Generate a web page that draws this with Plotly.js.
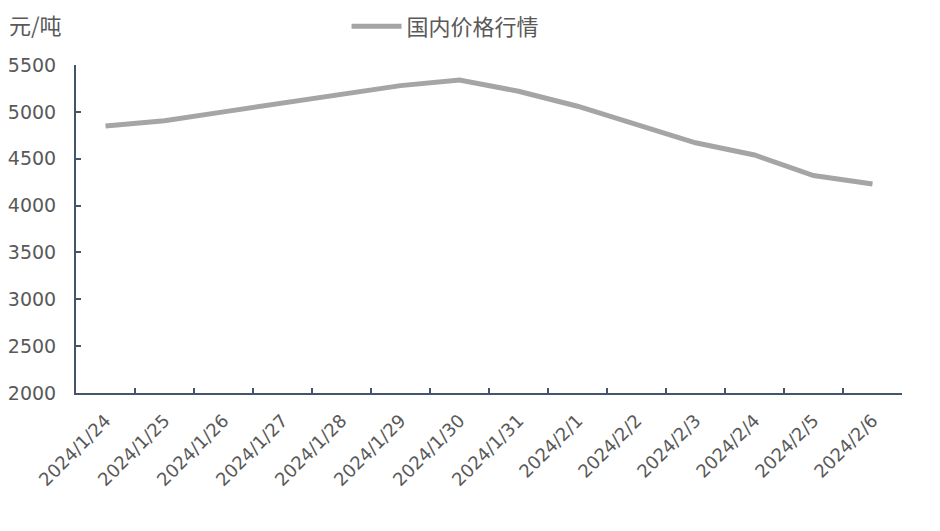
<!DOCTYPE html>
<html>
<head>
<meta charset="utf-8">
<script src="https://cdn.plot.ly/plotly-3.0.1.min.js"></script>
<style>html,body{margin:0;padding:0;background:#fff;}#chart{width:940px;height:531px;}</style>
</head>
<body>
<div id="chart"></div>
<script>
const categories = ["2024/1/24","2024/1/25","2024/1/26","2024/1/27","2024/1/28","2024/1/29","2024/1/30","2024/1/31","2024/2/1","2024/2/2","2024/2/3","2024/2/4","2024/2/5","2024/2/6"];
const seriesName = "国内价格行情";
const prices = [4850, 4905, 5000, 5095, 5190, 5280, 5340, 5220, 5060, 4860, 4670, 4540, 4320, 4230];
const yTicks = [2000, 2500, 3000, 3500, 4000, 4500, 5000, 5500];
const unitLabel = "元/吨";

const fontFam = '"Noto Sans CJK SC", "Microsoft YaHei", sans-serif';
const numFam = '"DejaVu Sans", "Noto Sans CJK SC", sans-serif';
const axisColor = '#44546A';

const trace = {
  x: categories,
  y: prices,
  type: 'scatter',
  mode: 'lines',
  name: seriesName,
  line: {color: '#A5A5A5', width: 5},
  hoverinfo: 'x+y'
};

const layout = {
  width: 940, height: 531,
  margin: {l: 76, r: 38, t: 65, b: 138},
  paper_bgcolor: '#fff', plot_bgcolor: '#fff',
  font: {family: fontFam, color: '#595959', size: 19},
  showlegend: true,
  legend: {orientation: 'h', x: 0.474, xanchor: 'center', y: 0.95, yanchor: 'middle', xref: 'container', yref: 'container',
           font: {size: 22, color: '#595959'}, itemwidth: 50, bgcolor: 'rgba(0,0,0,0)'},
  xaxis: {
    type: 'category',
    tickangle: -45,
    showline: true, linecolor: axisColor, linewidth: 2,
    ticks: 'inside', ticklen: 5, tickwidth: 2, tickcolor: axisColor,
    tickson: 'boundaries',
    showgrid: false, zeroline: false,
    tickfont: {size: 18, color: '#595959', family: numFam},
    ticklabelstandoff: 8,
    range: [-0.5, categories.length - 0.5]
  },
  yaxis: {
    range: [2000, 5500],
    tickvals: yTicks,
    showline: true, linecolor: axisColor, linewidth: 2,
    ticks: 'inside', ticklen: 5, tickwidth: 2, tickcolor: axisColor,
    showgrid: false, zeroline: false,
    tickfont: {size: 19, color: '#595959', family: numFam},
    ticklabelstandoff: 14
  },
  annotations: [{
    text: unitLabel, xref: 'paper', yref: 'paper', x: -0.083, y: 1.125,
    xanchor: 'left', yanchor: 'middle', showarrow: false,
    font: {size: 22, color: '#595959', family: fontFam}
  }]
};

Plotly.newPlot('chart', [trace], layout, {displayModeBar: false, staticPlot: true});
</script>
</body>
</html>
